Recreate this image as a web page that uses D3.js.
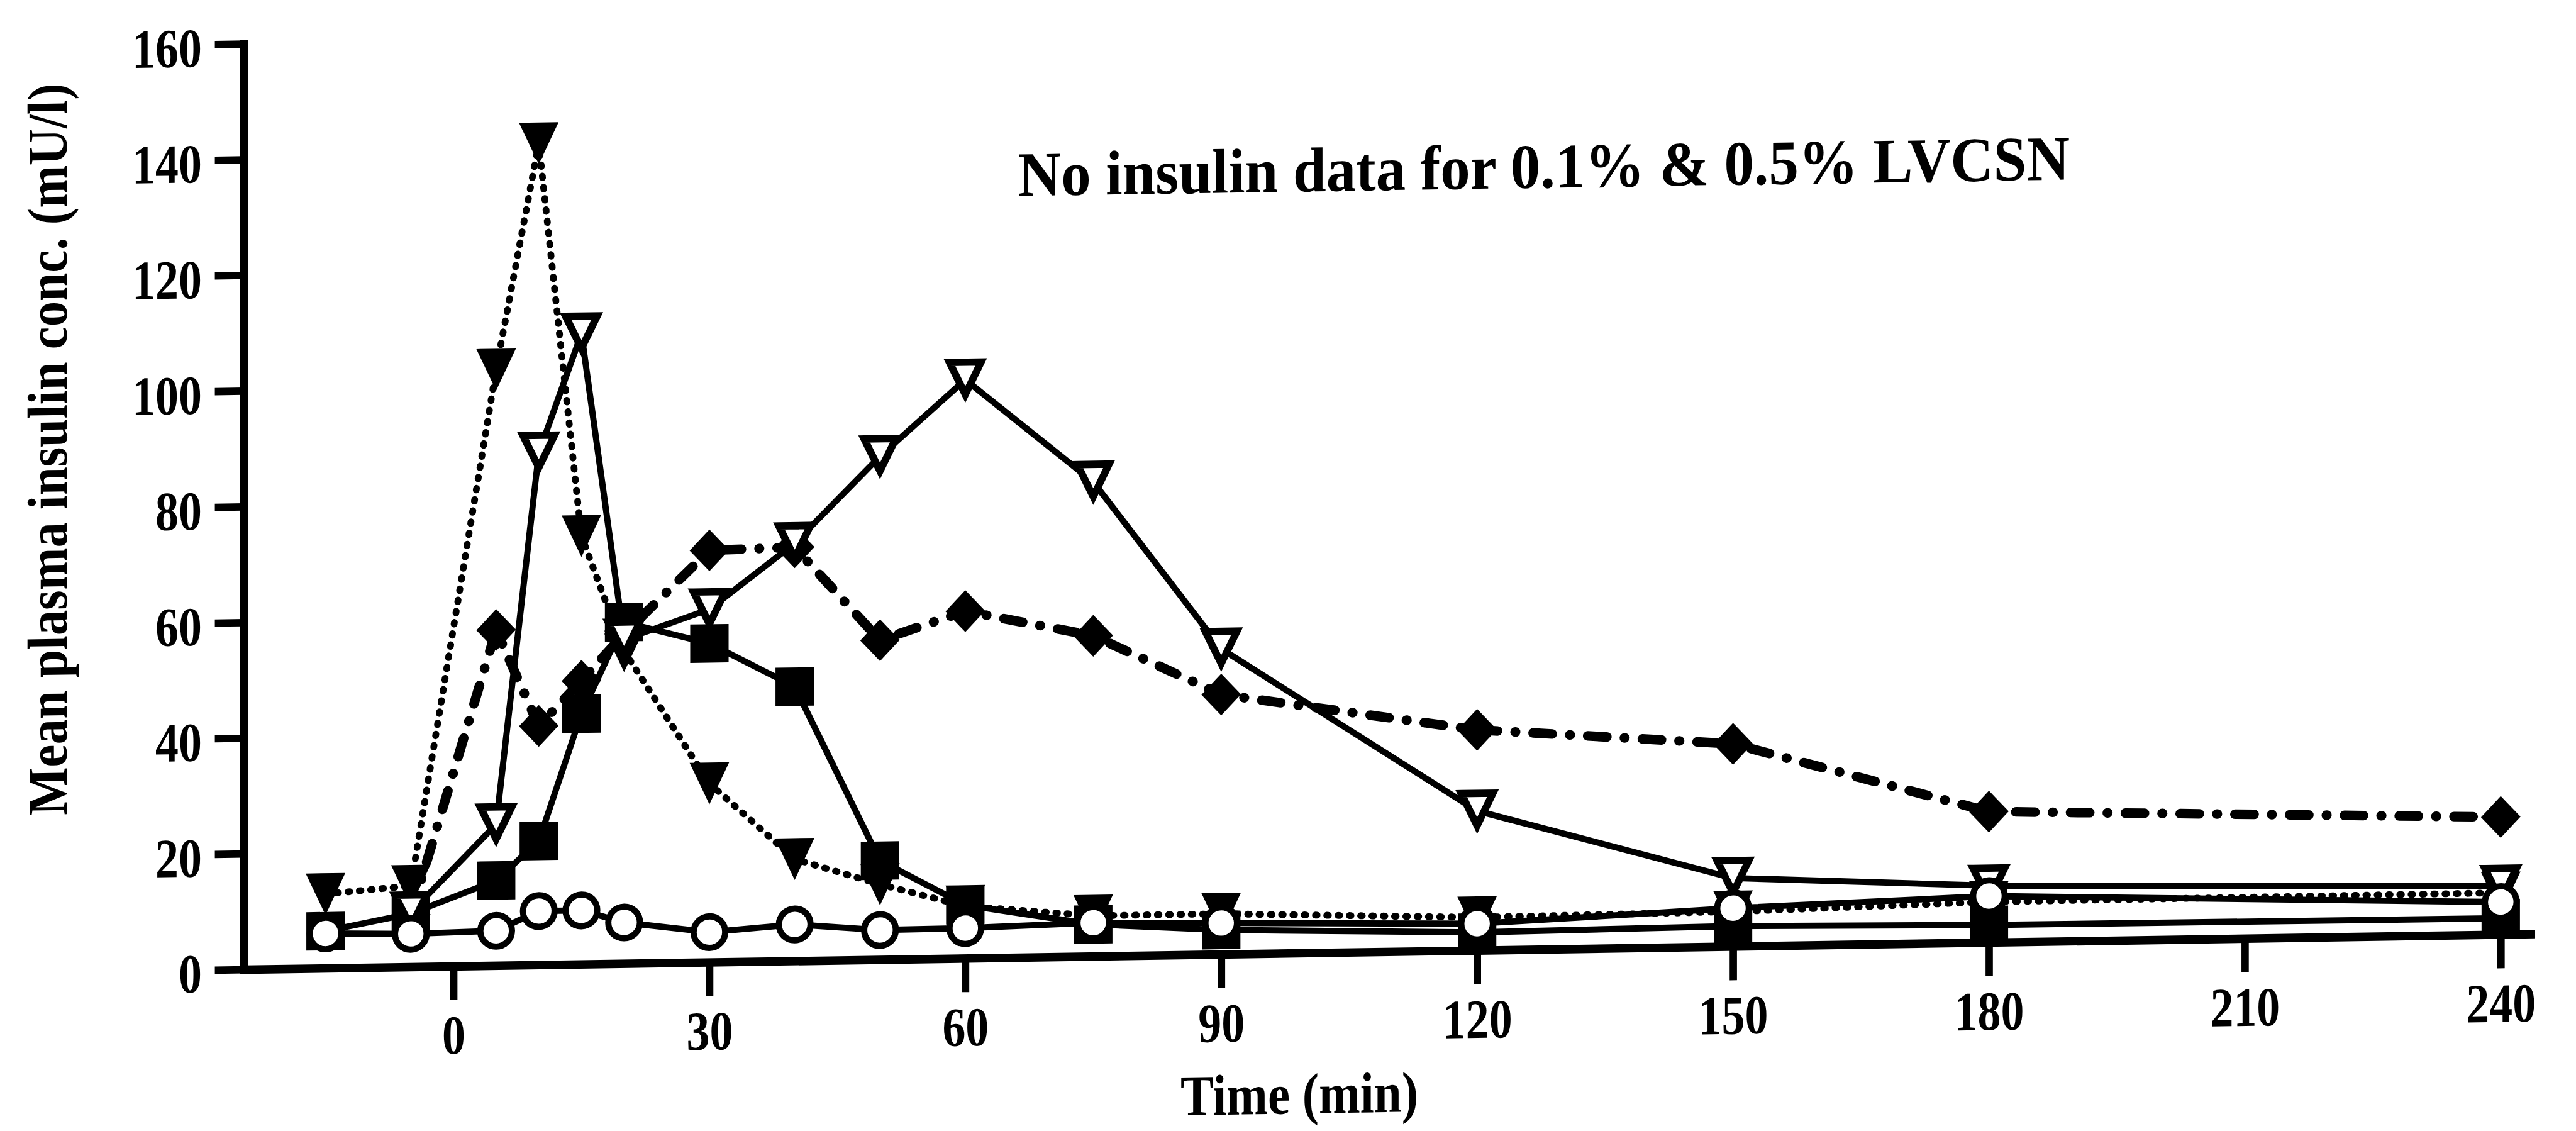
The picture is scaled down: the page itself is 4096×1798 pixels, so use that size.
<!DOCTYPE html>
<html>
<head>
<meta charset="utf-8">
<script src="https://cdn.jsdelivr.net/npm/d3@7"></script>
<style>
  html, body { margin: 0; padding: 0; background: #fff; }
  svg { display: block; }
  text { font-family: "Liberation Serif", "Times New Roman", serif; font-weight: bold; fill: #000; }
</style>
</head>
<body>
<script>
// Sampling times (min) and mean plasma insulin (mU/l) for each treatment group
const times = [-15, -5, 5, 10, 15, 20, 30, 40, 50, 60, 75, 90, 120, 150, 180, 240];
const filledTriangle = [12.8, 14, 103, 142, 74, 54, 30.9, 17.6, 13, 9, 7, 7, 5.7, 6, 7, 7.2];
const openTriangle   = [null, 9.4, 24.4, 88.5, 109, 56, 61, 72.2, 87, 100, 82, 52.8, 24.1, 11.8, 9.8, 8.4];
const filledDiamond  = [null, 9, 58, 41.3, 49, 57, 71.2, 71.5, 55.2, 60, 55.4, 44.9, 38.1, 35, 22.6, 20.3];
const filledSquare   = [6.4, 9.2, 14.7, 21.4, 43.3, 59, 55.1, 47.4, 17.1, 9.2, 5.5, 4.2, 3.1, 3.5, 3, 2.8];
const openCircle     = [6, 5.7, 6, 9.3, 9.3, 7.1, 5.2, 6.3, 5.1, 5.2, 5.8, 5.4, 4.6, 6.6, 8, 5.6];

const xTicks = [0, 30, 60, 90, 120, 150, 180, 210, 240];
const yTicks = [0, 20, 40, 60, 80, 100, 120, 140, 160];
const xTitle = "Time (min)";
const yTitle = "Mean plasma insulin conc. (mU/l)";
const note = "No insulin data for 0.1% & 0.5% LVCSN";

// Drawing space is laid out in 4560 x 2002 units and shown at 4096 x 1798
const W = 4560, H = 2002;
const svg = d3.select("body").append("svg")
  .attr("width", 4096).attr("height", 1798)
  .attr("viewBox", `0 0 ${W} ${H}`);

// the printed figure sits on a slight slant: horizontals rise towards the right
const slant = 0.0155, pivotX = 431;
const g = svg.append("g")
  .attr("transform", `matrix(1,${-slant},0,1,0,${slant * pivotX})`);

const x = d3.scaleLinear().domain([-24.6, 243.5]).range([431, 4480]);
const y = d3.scaleLinear().domain([0, 160]).range([1716, 77.6]);

// condense a text element horizontally to a fraction of its natural width
function condense(sel, k) {
  sel.each(function () {
    const len = this.getComputedTextLength();
    d3.select(this).attr("textLength", len * k).attr("lengthAdjust", "spacingAndGlyphs");
  });
}

// ---- axes ----
const yAxis = g.append("g")
  .attr("transform", `translate(${x.range()[0]},0)`)
  .call(d3.axisLeft(y).tickValues(yTicks).tickSize(51).tickSizeOuter(0).tickPadding(23));
const xAxis = g.append("g")
  .attr("transform", `translate(0,${y(0)})`)
  .call(d3.axisBottom(x).tickValues(xTicks).tickSize(60).tickSizeOuter(0).tickFormat(d3.format("d")));

[yAxis, xAxis].forEach(a => {
  a.attr("font-family", null).attr("font-size", null);
  a.select(".domain").attr("stroke", "#000").attr("stroke-width", 15).attr("stroke-linecap", "square");
  a.selectAll(".tick line").attr("stroke", "#000").attr("stroke-width", 13);
});
yAxis.selectAll(".tick text")
  .attr("font-size", 98).attr("dy", null).attr("y", 39).attr("x", -74)
  .call(condense, 0.84);
xAxis.selectAll(".tick text")
  .attr("font-size", 98).attr("dy", null).attr("y", 155)
  .call(condense, 0.84);

// ---- axis titles and note ----
g.append("text")
  .attr("transform", `translate(118,790) rotate(-90)`)
  .attr("text-anchor", "middle")
  .attr("font-size", 100)
  .attr("textLength", 1296).attr("lengthAdjust", "spacingAndGlyphs")
  .text(yTitle);

g.append("text")
  .attr("x", 2300).attr("y", 2000)
  .attr("text-anchor", "middle")
  .attr("font-size", 102)
  .attr("textLength", 421).attr("lengthAdjust", "spacingAndGlyphs")
  .text(xTitle);

g.append("text")
  .attr("x", 1802).attr("y", 368)
  .attr("font-size", 112)
  .attr("textLength", 1862).attr("lengthAdjust", "spacingAndGlyphs")
  .text(note);

// ---- series ----
const markerPaths = {
  triangle: "M-35,-37L35,-37L0,37Z",
  triangleOpen: "M-28,-31L28,-31L0,26Z",
  diamond: "M0,-37L35,0L0,37L-35,0Z",
  square: "M-34,-34H34V34H-34Z"
};

const series = [
  { values: filledSquare,   dash: null,           lw: 11, marker: "square" },
  { values: filledDiamond,  dash: "34 31 1 31",   lw: 17, marker: "diamond" },
  { values: filledTriangle, dash: "3 17",         lw: 12, marker: "triangle" },
  { values: openTriangle,   dash: null,           lw: 11, marker: "triangleOpen" },
  { values: openCircle,     dash: null,           lw: 11, marker: "circle" }
];

const line = d3.line()
  .defined(d => d.v != null)
  .x(d => x(d.t))
  .y(d => y(d.v));

series.forEach(s => {
  const pts = times.map((t, i) => ({ t, v: s.values[i] }));
  g.append("path")
    .datum(pts)
    .attr("d", line)
    .attr("fill", "none")
    .attr("stroke", "#000")
    .attr("stroke-width", s.lw)
    .attr("stroke-linejoin", "round")
    .attr("stroke-linecap", s.dash ? "round" : "butt")
    .attr("stroke-dasharray", s.dash);
});

series.forEach(s => {
  const pts = times.map((t, i) => ({ t, v: s.values[i] })).filter(d => d.v != null);
  const mg = g.append("g");
  if (s.marker === "circle") {
    mg.selectAll("circle").data(pts).join("circle")
      .attr("cx", d => x(d.t)).attr("cy", d => y(d.v)).attr("r", 28)
      .attr("fill", "#fff").attr("stroke", "#000").attr("stroke-width", 11);
  } else if (s.marker === "triangleOpen") {
    mg.selectAll("path").data(pts).join("path")
      .attr("transform", d => `translate(${x(d.t)},${y(d.v)})`)
      .attr("d", markerPaths.triangleOpen)
      .attr("fill", "#fff").attr("stroke", "#000").attr("stroke-width", 13)
      .attr("stroke-linejoin", "miter");
  } else {
    mg.selectAll("path").data(pts).join("path")
      .attr("transform", d => `translate(${x(d.t)},${y(d.v)})`)
      .attr("d", markerPaths[s.marker])
      .attr("fill", "#000");
  }
});
</script>
</body>
</html>
